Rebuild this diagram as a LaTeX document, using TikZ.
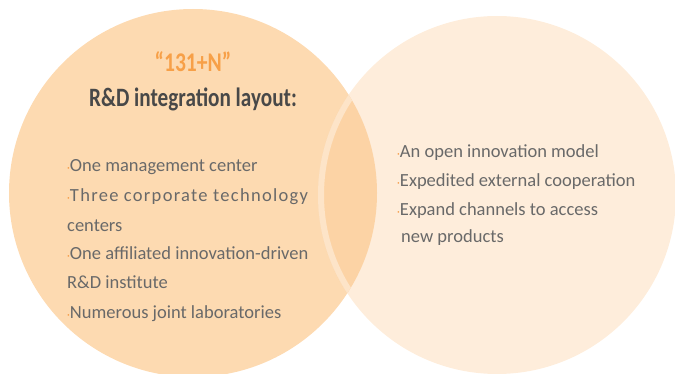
\documentclass[tikz,border=0pt]{standalone}
\usepackage{fontspec}
\setmainfont{Carlito}
\newfontfamily\headfont[FakeStretch=0.8]{Carlito}
\definecolor{leftfill}{RGB}{253,218,177}
\definecolor{rightfill}{RGB}{254,237,219}
\definecolor{interfill}{RGB}{252,211,165}
\definecolor{bandcol}{RGB}{253,228,200}
\definecolor{titleorange}{RGB}{247,160,72}
\definecolor{headgray}{RGB}{72,72,72}
\definecolor{bodygray}{RGB}{105,105,105}
\definecolor{dotorange}{RGB}{245,150,60}
\newcommand{\itemdot}{\textcolor{dotorange}{\fontsize{11}{11}\selectfont ·}}
\begin{document}
\begin{tikzpicture}[x=1pt,y=-1pt,
  item/.style={anchor=base west, inner sep=0pt, text=bodygray, font=\fontsize{18.5}{21}\selectfont},
  headline/.style={anchor=base, inner sep=0pt, font=\headfont\bfseries}]
\useasboundingbox (0,0) rectangle (675,374);
\clip (0,0) rectangle (675,374);
\fill[leftfill] (193,193) circle (184pt);
\fill[rightfill] (497,195) circle (179pt);
\begin{scope}
  \clip (193,193) circle (184pt);
  \fill[interfill] (497,195) circle (179pt);
  \draw[bandcol, line width=6pt] (497,195) circle (176pt);
\end{scope}
\node[headline, text=titleorange, font=\headfont\bfseries\fontsize{27}{27}\selectfont] (title) at (193,72) {“131+N”};
\node[headline, text=headgray, font=\headfont\bfseries\fontsize{26.5}{26.5}\selectfont] (head) at (193,107) {R\&D integration layout:};
\node[item] (l1) at (67,172) {\itemdot One management center};
\node[item] (l2) at (67,202) {\itemdot\addfontfeatures{LetterSpace=7}Three corporate technology};
\node[item] (l3) at (67,232) {centers};
\node[item] (l4) at (67,260) {\itemdot One affiliated innovation-driven};
\node[item] (l5) at (67,288) {R\&D institute};
\node[item] (l6) at (67,318) {\itemdot Numerous joint laboratories};
\node[item] (r1) at (397,158) {\itemdot An open innovation model};
\node[item] (r2) at (397,187) {\itemdot Expedited external cooperation};
\node[item] (r3) at (397,216) {\itemdot Expand channels to access};
\node[item] (r4) at (401,243) {new products};
\end{tikzpicture}
\end{document}
